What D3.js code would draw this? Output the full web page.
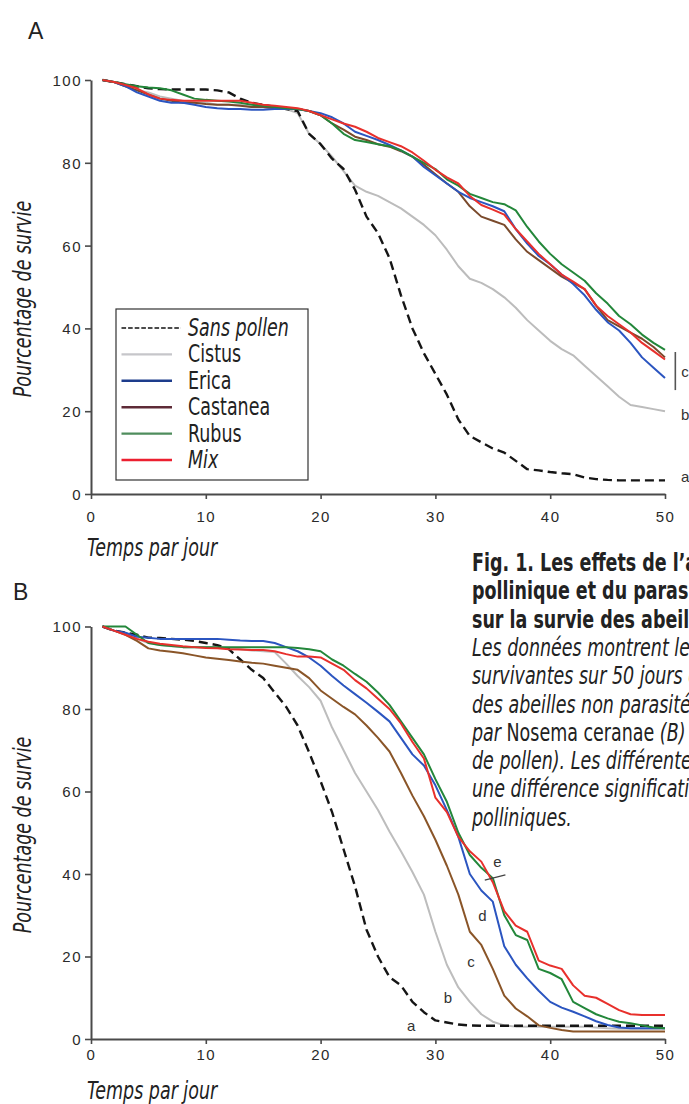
<!DOCTYPE html>
<html>
<head>
<meta charset="utf-8">
<script src="https://cdn.jsdelivr.net/npm/d3@7"></script>
<style>
  body { margin: 0; overflow: hidden; background: #fff; }
  .tick text { font-family: "Liberation Sans", Arial, sans-serif; font-size: 15px; fill: #2a2a2a; letter-spacing: 1.5px; }
  .domain { stroke: #4a4a4a; stroke-width: 2; }
  .tick line { stroke: #4a4a4a; stroke-width: 1.6; }
  .narrow { font-family: "Liberation Sans Narrow", "DejaVu Sans Condensed", "Open Sans", sans-serif; fill: #222; }
  .letter { font-family: "Liberation Sans", Arial, sans-serif; font-size: 15px; fill: #333; }
</style>
</head>
<body>
<div id="chart"></div>
<script>
// days 1..50
var days = [1,2,3,4,5,6,7,8,9,10,11,12,13,14,15,16,17,18,19,20,
            21,22,23,24,25,26,27,28,29,30,31,32,33,34,35,36,37,38,39,40,
            41,42,43,44,45,46,47,48,49,50];

// panel A : bees not parasitised
var sansPollenA = [100,99.5,99,98.5,98,97.8,97.7,97.7,97.7,97.7, 97.5,97,95.5,94.5,94,93.5,93,92.5,87,84.5,
                   81,78.5,73.5,67,63,57,48,40,34,29, 24,18,14,12.5,11,10,8,6,5.7,5.3,
                   5,4.8,4,3.6,3.4,3.3,3.3,3.3,3.3,3.3];
var cistusA = [100,99.5,98.5,97.5,97,96,95.5,95,94.5,94.5, 94,94,94,93.5,93.5,93,93,92,87,84.5,
               81.5,78,74.5,73,72,70.5,69,67,65,62.5, 59,55,52,51,49.5,47.5,45,42,39.5,37,
               35,33.5,31,28.5,26,23.5,21.5,21,20.5,20];
var ericaA = [100,99.5,98.5,97,96,95,94.5,94.5,94,93.5, 93.2,93,93,92.8,92.8,93,93,93,92.5,92,
              91,89.5,87.5,86.5,85.5,84.3,83,81.5,79,77, 75,73,71.5,70.5,69.5,68.3,64,60.5,57.5,55.5,
              53,50.7,48,44.5,41.5,39.5,36.5,33,30.5,28];
var castaneaA = [100,99.5,98.5,97.5,96.5,95.5,95,94.5,94.5,94.2, 94,94,93.8,93.5,93.5,93.2,93,93,92.5,91.5,
                 89.5,88,86.3,85.5,84.5,83.9,82.8,81.5,79.5,77.2, 75,73,69.5,67,66,65,61.5,58.5,56.5,54.5,
                 52.5,51,49.5,45.5,42,40.5,39,37.5,35.5,33];
var rubusA = [100,99.5,99,98.5,98.2,98,97.5,96.5,95.5,95.2, 95,94.8,94.5,94,93.8,93.5,93.2,93,92.5,91.5,
              89.5,87,85.5,85,84.5,84,83,81.5,80,78.5, 76,74.5,72.5,71.5,70.5,70,68.5,64.5,61,58,
              55.5,53.5,51.5,48.5,46,43,41,38.5,36.5,34.8];
var mixA = [100,99.5,98.8,98,96.5,95.5,95.2,95,95,95, 95,95,95,94.5,94,93.8,93.5,93.2,92.5,91.5,
            90.5,89.5,88.7,87.5,86,85,84,82.5,80.5,78.3, 76.5,75,72,69.8,68.7,67.5,64,61,58,55.5,
            53,51.3,49.5,45.5,43,41,39,36.5,34.5,32.5];

// panel B : bees parasitised by Nosema ceranae
var sansPollenB = [100,99,98.5,98,97.3,97.2,97,96.8,96.5,96, 95.5,94.5,92,89.5,87.5,84,80.5,76,69.5,62.5,
                   55,46,37,26.5,20,15,13,9,6.5,4.5, 4,3.5,3.3,3.2,3.2,3.2,3.2,3.2,3.2,3.2,
                   3.2,3.2,3.2,3.2,3.2,3.2,3.2,3.2,3.2,3.2];
var cistusB = [100,99,98.5,97,96,95.5,95.2,95,95,95, 95,94.8,94.5,94.2,94,93.8,91,88,85.3,82,
               75.5,70,64.5,60,55.5,50.3,45.5,40.5,35,26, 18,12.5,9,6,4.2,3.3,3,3,3,3,
               3,3,3,2.8,2.6,2.5,2.5,2.5,2.5,2.5];
var ericaB = [100,99,98.5,97.5,97.3,97,97,97,97,97, 97,96.8,96.6,96.5,96.5,96,95,94,92.5,90.5,
              88,85.7,83.6,81.5,79.3,77,73,69,66.3,61.5, 55.5,49,40,36,33.3,22.5,18,14.7,11.7,9,
              7.6,6.6,5.5,4.3,3.4,2.8,2.6,2.6,2.6,2.6];
var castaneaB = [100,99,98,96.5,94.7,94.2,93.9,93.5,93,92.5, 92.2,91.9,91.5,91.2,91,90.5,90,89.5,87.5,84.5,
                 82.5,80.5,78.7,76,73,69.7,64.5,59,54,48.3, 42,35,26,22.8,17,10.5,7.4,5.5,3.3,2.7,
                 2.2,1.8,1.8,1.8,1.8,1.8,1.8,1.8,1.8,1.8];
var rubusB = [100,100,100,98,96,95.5,95.3,95,95,95, 95,95,95,95,95,95,95,94.8,94.5,94,
              92,90.5,88.5,86.6,84,81,77,73,69,63, 57.5,50,44.6,41.5,39,30,25.2,24,17,16,
              14.5,9,7.5,6,5,4.2,3.8,3.3,2.8,2.6];
var mixB = [100,99,98,97,96.3,95.8,95.5,95.2,95,94.8, 94.7,94.5,94.4,94.3,94.3,94,93.3,92.7,92.7,92.5,
            91,89.5,87,85,82.5,80,76.5,72,68,58.5, 55,49,45.5,43,38,31,27.5,26,19,17.8,
            17,13,10.5,10,8.5,7,6,5.8,5.8,5.8];

var yTicks = [0,20,40,60,80,100];
var xTicks = [0,10,20,30,40,50];
var legendNames = ["Sans pollen","Cistus","Erica","Castanea","Rubus","Mix"];
var legendItalic = [true,false,false,false,false,true];
var legendColors = ["#111","#c6c6ca","#1d3c8c","#5e2b37","#4f8d5d","#ec2030"];

var captionLines = [
  [{t:"Fig. 1. Les effets de l’alimentation", w:"bold"}],
  [{t:"pollinique et du parasite", w:"bold"}],
  [{t:"sur la survie des abeilles", w:"bold"}],
  [{t:"Les données montrent le pourcentage", s:"italic"}],
  [{t:"survivantes sur 50 jours chez", s:"italic"}],
  [{t:"des abeilles non parasitées", s:"italic"}],
  [{t:"par", s:"italic"}, {t:" Nosema ceranae "}, {t:"(B) (nourries", s:"italic"}],
  [{t:"de pollen). Les différentes lettres", s:"italic"}],
  [{t:"une différence significative", s:"italic"}],
  [{t:"polliniques.", s:"italic"}]
];

var squeeze = 0.81;   // condensed look of the original typeface

var svg = d3.select("#chart").append("svg")
  .attr("width", 689)
  .attr("height", 1104);

var x = d3.scaleLinear().domain([0,50]).range([91,665]);

function narrow(parent, tx, ty, rot) {
  return parent.append("text").attr("class","narrow")
    .attr("transform","translate(" + tx + "," + ty + ")" + (rot ? " rotate(" + rot + ")" : "") + " scale(" + squeeze + ",1)")
    .attr("font-size", 24);
}

function drawPanel(p) {
  var y = d3.scaleLinear().domain([0,100]).range([p.y0, p.y100]);
  var g = svg.append("g");

  g.append("text")
    .attr("x", p.letterX).attr("y", p.letterY)
    .attr("font-family", "Liberation Sans, Arial, sans-serif")
    .attr("font-size", 23).attr("fill", "#222")
    .text(p.letter);

  var line = d3.line()
    .x(function(d,i){ return x(days[i]); })
    .y(function(d){ return y(d); });

  p.series.forEach(function(s){
    g.append("path")
      .attr("d", line(s.values))
      .attr("fill","none")
      .attr("stroke", s.color)
      .attr("stroke-width", s.dash ? 2.4 : 2)
      .attr("stroke-dasharray", s.dash ? "9,5" : null)
      .attr("stroke-linejoin","round");
  });

  var yAxis = g.append("g")
    .attr("transform","translate(91,0)")
    .call(d3.axisLeft(y).tickValues(yTicks).tickSize(6).tickSizeOuter(0).tickPadding(3));
  yAxis.selectAll(".tick text").attr("dy","0.36em");

  var xAxis = g.append("g")
    .attr("transform","translate(0," + p.y0 + ")")
    .call(d3.axisBottom(x).tickValues(xTicks).tickSize(5).tickSizeOuter(0));
  xAxis.selectAll(".tick text").attr("y", p.xLabelOff).attr("dy", 0);

  narrow(g, 31, p.yTitleMid, -90)
    .attr("text-anchor","middle")
    .attr("font-style","italic")
    .text("Pourcentage de survie");

  narrow(g, 87, p.xTitleY)
    .attr("font-style","italic")
    .text("Temps par jour");

  p.marks.forEach(function(m){
    g.append("text").attr("class","letter")
      .attr("x", x(m.d)).attr("y", y(m.v))
      .attr("text-anchor","middle").attr("dy","0.35em")
      .text(m.t);
  });
  return {g: g, y: y};
}

var A = drawPanel({
  letter: "A", letterX: 28, letterY: 39,
  y0: 494, y100: 80, xLabelOff: 27.5, xTitleY: 556, yTitleMid: 299,
  series: [
    {values: cistusA, color: "#bcbcbc"},
    {values: sansPollenA, color: "#151515", dash: true},
    {values: castaneaA, color: "#7a4a2c"},
    {values: ericaA, color: "#2b55c0"},
    {values: rubusA, color: "#23873a"},
    {values: mixA, color: "#e8302c"}
  ],
  marks: [
    {t:"c", d:51.75, v:29.5},
    {t:"b", d:51.75, v:19.1},
    {t:"a", d:51.75, v:4.1}
  ]
});

// bar grouping the c curves
A.g.append("line")
  .attr("x1", x(50.9)).attr("x2", x(50.9))
  .attr("y1", A.y(34.3)).attr("y2", A.y(25.1))
  .attr("stroke","#555").attr("stroke-width",1.6);

// legend
var leg = A.g.append("g");
leg.append("rect")
  .attr("x",116).attr("y",309).attr("width",192).attr("height",171)
  .attr("fill","#fff").attr("stroke","#333").attr("stroke-width",1.2);
legendNames.forEach(function(name,i){
  var cy = 328 + i*26.4;
  leg.append("line")
    .attr("x1",121.5).attr("x2", i === 0 ? 181 : 172)
    .attr("y1",cy).attr("y2",cy)
    .attr("stroke",legendColors[i])
    .attr("stroke-width", i === 0 ? 1.3 : 2.4)
    .attr("stroke-dasharray", i === 0 ? "4.6,2" : null);
  narrow(leg, 188, cy + 8)
    .attr("font-style", legendItalic[i] ? "italic" : "normal")
    .text(name);
});

var B = drawPanel({
  letter: "B", letterX: 13, letterY: 600,
  y0: 1039, y100: 626.5, xLabelOff: 21, xTitleY: 1099, yTitleMid: 835,
  series: [
    {values: cistusB, color: "#bdbdbd"},
    {values: sansPollenB, color: "#151515", dash: true},
    {values: castaneaB, color: "#8a5528"},
    {values: ericaB, color: "#2b55c0"},
    {values: rubusB, color: "#23873a"},
    {values: mixB, color: "#e8302c"}
  ],
  marks: [
    {t:"e", d:35.4, v:42.9},
    {t:"d", d:34.1, v:30},
    {t:"c", d:33.1, v:18.7},
    {t:"b", d:31.1, v:9.9},
    {t:"a", d:27.9, v:3.1}
  ]
});

// tick across the e curves
B.g.append("line")
  .attr("x1", x(34.3)).attr("x2", x(36.1))
  .attr("y1", B.y(38.5)).attr("y2", B.y(39.8))
  .attr("stroke","#444").attr("stroke-width",1.2);

// caption
var cap = svg.append("g");
captionLines.forEach(function(parts,i){
  var t = narrow(cap, 472, 571 + i*28.3);
  parts.forEach(function(pt){
    t.append("tspan")
      .attr("font-weight", pt.w || "normal")
      .attr("font-style", pt.s || "normal")
      .text(pt.t);
  });
});
</script>
</body>
</html>
